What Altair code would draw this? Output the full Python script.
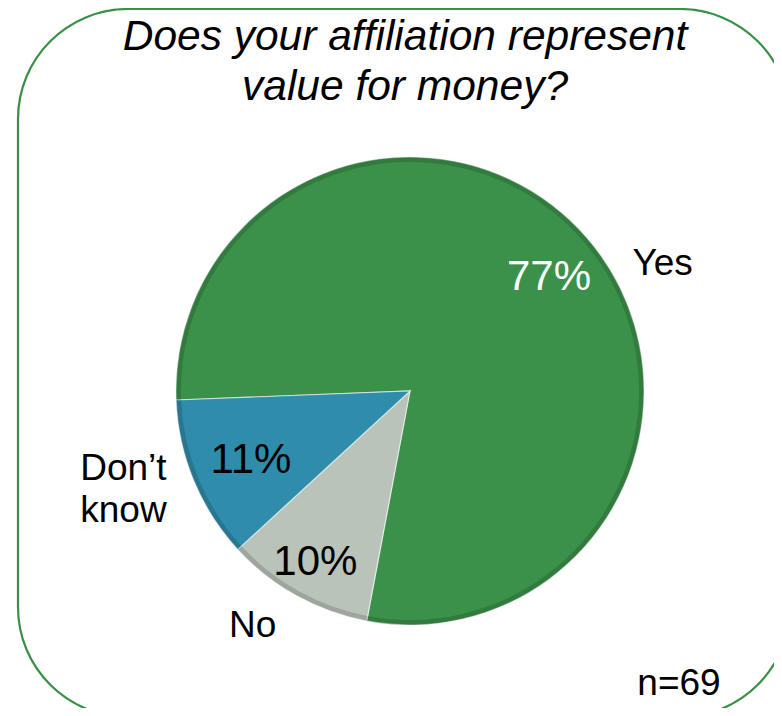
import math
import altair as alt
import pandas as pd

# ---------------- data ----------------
categories = ["Yes", "No", "Don\u2019t know"]
percent = [77, 10, 11]
pct_labels = ["77%", "10%", "11%"]
cat_labels = ["Yes", "No", "Don\u2019t\nknow"]
title_lines = ["Does your affiliation represent", "value for money?"]
note_text = "n=69"

# ---------------- style ----------------
FONT = "Liberation Sans"
slice_colors = ["#3b914a", "#b9c3b9", "#2f8cab"]
pct_text_colors = ["#ffffff", "#000000", "#000000"]
pct_radius = [172, 207, 179]        # px from centre
pct_shift_deg = [4.7, -1.8, -4.9]   # angular nudge from slice middle
cat_radius = [278, 292, 300]
cat_shift_deg = [16.1, 3.6, 5.2]
frame_color = "#3a8f46"

W, H = 766, 700
CX, CY, R = 402, 383, 234
start = math.radians(-92.2)
total = sum(percent)
unit = total / 360.0

df = pd.DataFrame({
    "cat": categories,
    "value": percent,
    "pct": pct_labels,
    "clabel": cat_labels,
    "order": list(range(len(categories))),
    "pcol": pct_text_colors,
    "pr": pct_radius,
    "ps": [d * unit for d in pct_shift_deg],
    "cr": cat_radius,
    "cs": [d * unit for d in cat_shift_deg],
})

theta_scale = alt.Scale(domain=[0, total], range=[start, start + 2 * math.pi])

base = alt.Chart(df).transform_stack(
    stack="value", groupby=[], as_=["v0", "v1"], sort=[alt.SortField("order")]
).transform_calculate(mid="(datum.v0 + datum.v1) / 2")

arcs = base.mark_arc(radius=R, stroke="#ffffff", strokeWidth=1.2, strokeOpacity=0.55).encode(
    theta=alt.Theta("v0:Q", scale=theta_scale, stack=None),
    theta2="v1:Q",
    color=alt.Color("cat:N", scale=alt.Scale(domain=categories, range=slice_colors), legend=None),
    x=alt.value(CX),
    y=alt.value(CY),
)

rim = base.mark_arc(radius=R, radius2=R - 5, opacity=0.15, color="#000000").encode(
    theta=alt.Theta("v0:Q", scale=theta_scale, stack=None),
    theta2="v1:Q",
    x=alt.value(CX),
    y=alt.value(CY),
)

pct_text = base.transform_calculate(pt="datum.mid + datum.ps").mark_text(
    font=FONT, fontSize=42, align="center", baseline="alphabetic"
).encode(
    theta=alt.Theta("pt:Q", scale=theta_scale, stack=None),
    radius=alt.Radius("pr:Q", scale=None),
    text="pct:N",
    color=alt.Color("pcol:N", scale=None),
    x=alt.value(CX),
    y=alt.value(CY),
)

cat_text = base.transform_calculate(ct="datum.mid + datum.cs").mark_text(
    font=FONT, fontSize=37, align="center", baseline="alphabetic",
    lineBreak="\n", lineHeight=42, color="#000000"
).encode(
    theta=alt.Theta("ct:Q", scale=theta_scale, stack=None),
    radius=alt.Radius("cr:Q", scale=None),
    text="clabel:N",
    x=alt.value(CX),
    y=alt.value(CY),
)

one = pd.DataFrame({"t": ["\n".join(title_lines)]})
title = alt.Chart(one).mark_text(
    font=FONT, fontSize=42.5, fontStyle="italic", align="center",
    baseline="alphabetic", lineBreak="\n", lineHeight=50, color="#000000"
).encode(text="t:N", x=alt.value(397), y=alt.value(42))

note = alt.Chart(pd.DataFrame({"t": [note_text]})).mark_text(
    font=FONT, fontSize=37, align="center", baseline="alphabetic", color="#000000"
).encode(text="t:N", x=alt.value(671), y=alt.value(687))

frame = alt.Chart(pd.DataFrame({"t": [0]})).mark_rect(
    fillOpacity=0, stroke=frame_color, strokeWidth=2.2, cornerRadius=110
).encode(x=alt.value(10), x2=alt.value(782), y=alt.value(1), y2=alt.value(709))

chart = alt.layer(frame, arcs, rim, pct_text, cat_text, title, note).resolve_scale(
    color="independent"
).properties(
    width=W, height=H, autosize="none", padding=0
).configure_view(stroke=None)

chart.save("out.html", embed_options={"renderer": "svg", "actions": False})
